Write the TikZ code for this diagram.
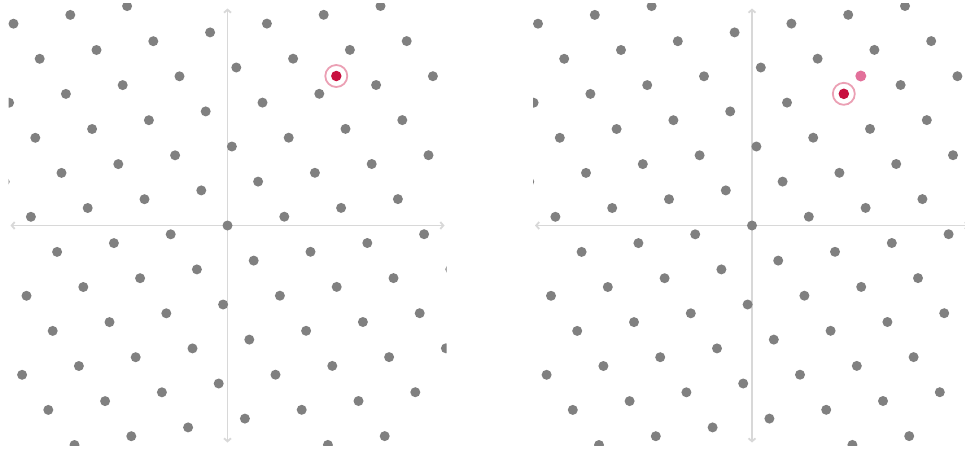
\documentclass[tikz,border=0pt]{standalone}
\usepackage{tikz}
\usepackage{xcolor}
\usetikzlibrary{arrows.meta}

\definecolor{dotgrey}{HTML}{808080}
\definecolor{axisgrey}{HTML}{D8D8D8}
\definecolor{crimson}{HTML}{C8103F}
\definecolor{ringpink}{HTML}{EBA0B4}
\definecolor{targetpink}{HTML}{E2709A}

\begin{document}
\begin{tikzpicture}[x=1pt,y=-1pt,
  dot/.style={circle,fill=dotgrey,inner sep=0pt,minimum size=10pt},
  axis/.style={draw=axisgrey,line width=1.8pt,
    {Straight Barb[length=3pt,width=7pt]}-{Straight Barb[length=3pt,width=7pt]}},
  hit/.style={circle,fill=crimson,inner sep=0pt,minimum size=10.5pt},
  ring/.style={circle,draw=ringpink,line width=1.8pt,inner sep=0pt,minimum size=22pt},
  target/.style={circle,fill=targetpink,inner sep=0pt,minimum size=11pt}]
  \useasboundingbox (0,0) rectangle (965,450);
  % --- two panels: same lattice, origin L(227.5,225.5) R(752,225.5) ---
  % basis a=(56.8,-8.8), b=(26.2,35.1) in pixels, y pointing down
  \foreach \ox/\pn in {227.5/L, 752/R} {
    \begin{scope}[shift={(\ox,225.5)}]
      \clip (-219,-222) rectangle (219,220);
      % axes
      \coordinate (\pn-w) at (-217,0);
      \coordinate (\pn-e) at (217,0);
      \coordinate (\pn-n) at (0,-217);
      \coordinate (\pn-s) at (0,217);
      \draw[axis] (\pn-w) -- (\pn-e);
      \draw[axis] (\pn-n) -- (\pn-s);
      % lattice points (a+6b, bottom right corner, is left out)
      \foreach \n in {-8,...,8} {
        \foreach \m in {-9,...,9} {
          \pgfmathtruncatemacro\keep{!(\n==1 && \m==6)}
          \ifnum\keep=1
            \node[dot] (\pn-\n-\m) at ({56.8*\n+26.2*\m},{-8.8*\n+35.1*\m}) {};
          \fi
        }
      }
    \end{scope}
  }
  % --- left: the target point, off the lattice ---
  \begin{scope}[shift={(227.5,225.5)}]
    \node[ring] (L-ring) at (108.8,-149.5) {};
    \node[hit] (L-goal) at (L-ring) {};
  \end{scope}
  % --- right: closest lattice point 3a-3b ringed, target kept as pale dot ---
  \begin{scope}[shift={(752,225.5)}]
    \node[ring] (R-ring) at (R-3--3) {};
    \node[hit] (R-best) at (R-3--3) {};
    \node[target] (R-goal) at (108.8,-149.5) {};
  \end{scope}
\end{tikzpicture}
\end{document}
